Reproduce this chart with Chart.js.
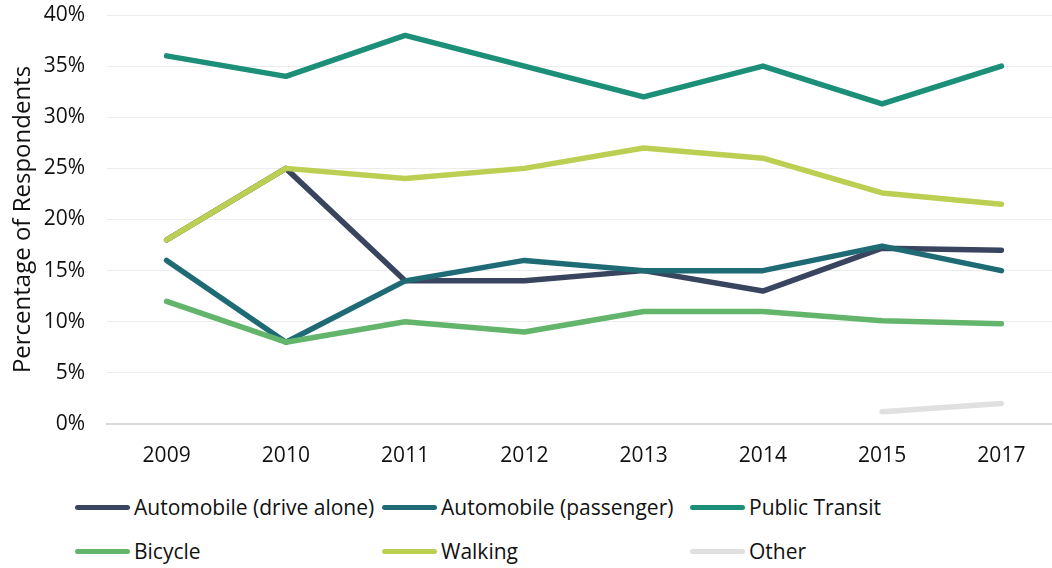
<!DOCTYPE html>
<html>
<head>
<meta charset="utf-8">
<script src="https://cdn.jsdelivr.net/npm/chart.js@4"></script>
<style>
  body { margin: 0; background: #fff; font-family: 'Open Sans', sans-serif; }
  #wrap { position: relative; width: 1052px; height: 568px; }
  #legend {
    position: absolute; left: 75px; top: 490px;
    display: grid; grid-template-columns: 307px 308px auto;
    row-gap: 10px; font-size: 21px; color: #111;
  }
  .item { display: flex; align-items: center; height: 34px; white-space: nowrap; }
  .swatch { width: 55px; height: 5px; border-radius: 3px; margin-right: 4px; }
</style>
</head>
<body>
<div id="wrap">
  <canvas id="chart" width="1052" height="470"></canvas>
  <div id="legend"></div>
</div>
<script>
const years = ['2009', '2010', '2011', '2012', '2013', '2014', '2015', '2017'];
const driveAlone = [18, 25, 14, 14, 15, 13, 17.2, 17];
const passenger = [16, 8, 14, 16, 15, 15, 17.4, 15];
const publicTransit = [36, 34, 38, 35, 32, 35, 31.3, 35];
const bicycle = [12, 8, 10, 9, 11, 11, 10.1, 9.8];
const walking = [18, 25, 24, 25, 27, 26, 22.6, 21.5];
const other = [null, null, null, null, null, null, 1.2, 2.0];

const seriesNames = ['Automobile (drive alone)', 'Automobile (passenger)', 'Public Transit', 'Bicycle', 'Walking', 'Other'];
const seriesData = [driveAlone, passenger, publicTransit, bicycle, walking, other];
const seriesColors = ['#39455f', '#1f6b75', '#1b8f78', '#63b56b', '#bccf52', '#e0e0e0'];

Chart.defaults.font.family = "'Open Sans', sans-serif";
Chart.defaults.font.size = 21;
Chart.defaults.color = '#111';

const datasets = seriesNames.map((name, i) => ({
  label: name,
  data: seriesData[i],
  borderColor: seriesColors[i],
  backgroundColor: seriesColors[i],
  borderWidth: 5.5,
  borderCapStyle: 'round',
  borderJoinStyle: 'round',
  pointRadius: 0,
  tension: 0,
  spanGaps: false,
  // later series drawn on top, like the original
  order: seriesNames.length - 1 - i
}));

// plot area runs a bit past the right edge of the canvas in the original
const widenPlot = {
  id: 'widenPlot',
  afterLayout(chart) {
    const extra = 9;
    const x = chart.scales.x;
    chart.chartArea.right += extra;
    chart.chartArea.width += extra;
    x.right += extra;
    x.width += extra;
    x.configure();
  }
};

const ctx = document.querySelector('#chart').getContext('2d');
const myChart = new Chart(ctx, {
  type: 'line',
  data: { labels: years, datasets },
  plugins: [widenPlot],
  options: {
    responsive: false,
    animation: false,
    layout: { padding: { top: 15, right: 0, left: 0, bottom: 0 } },
    plugins: { legend: { display: false }, tooltip: { enabled: false } },
    scales: {
      x: {
        offset: true,
        grid: { display: false, drawTicks: false },
        border: { color: '#d9d9d9', width: 2 },
        ticks: { padding: 19, maxRotation: 0 },
        afterFit: s => { s.height = 46; s.paddingLeft = 0; s.paddingRight = 0; }
      },
      y: {
        min: 0, max: 40,
        ticks: { stepSize: 5, padding: 22, callback: v => v + '%' },
        grid: { color: '#ececec', lineWidth: 1, drawTicks: false },
        border: { display: false },
        title: { display: true, text: 'Percentage of Respondents', font: { size: 24 }, padding: { top: 9, bottom: 0 } },
        afterFit: s => { s.width = 107; s.paddingTop = 0; s.paddingBottom = 0; }
      }
    }
  }
});

const legendEl = document.querySelector('#legend');
myChart.data.datasets.forEach(ds => {
  const item = document.createElement('div');
  item.className = 'item';
  const sw = document.createElement('span');
  sw.className = 'swatch';
  sw.style.background = ds.borderColor;
  const txt = document.createElement('span');
  txt.textContent = ds.label;
  item.appendChild(sw);
  item.appendChild(txt);
  legendEl.appendChild(item);
});
</script>
</body>
</html>
